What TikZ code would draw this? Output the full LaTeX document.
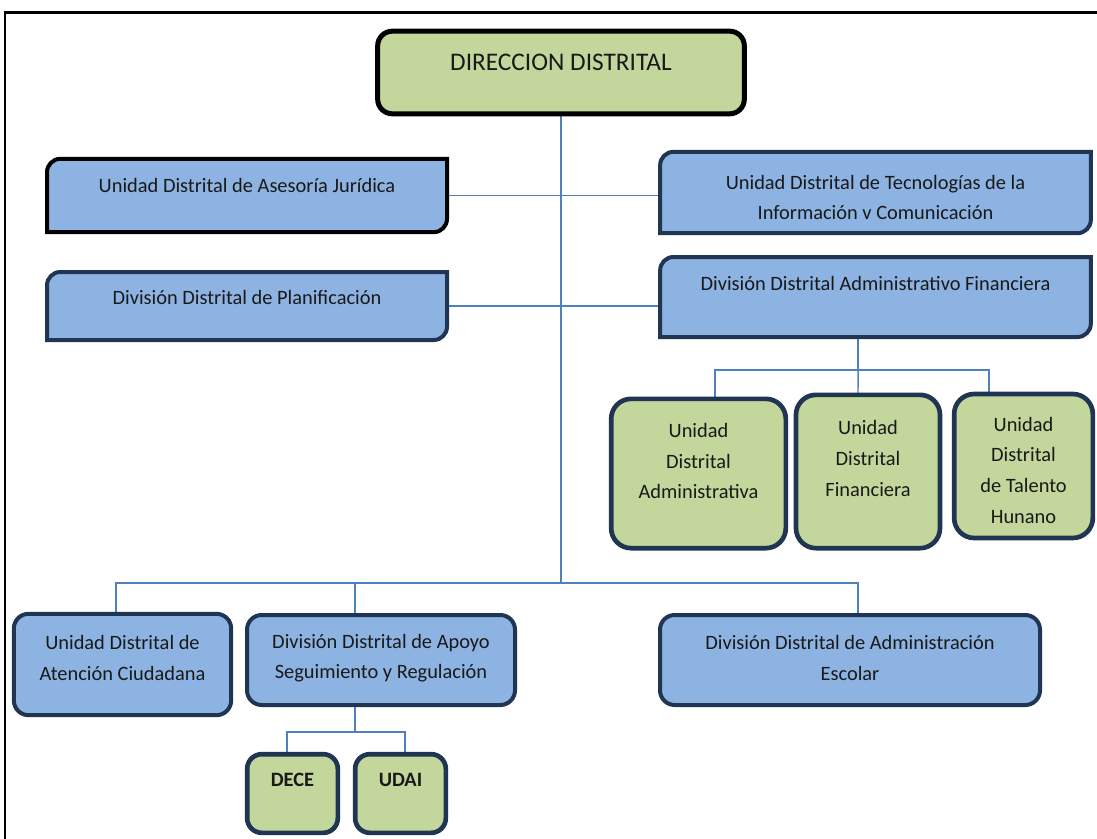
\documentclass[tikz,border=0pt]{standalone}
\usepackage{fontspec}
\setmainfont{Carlito}
\usepackage{tikz}
\usetikzlibrary{calc}

\definecolor{boxblue}{HTML}{8DB3E2}
\definecolor{boxgreen}{HTML}{C3D69B}
\definecolor{edgenavy}{HTML}{1F3552}
\definecolor{linkblue}{HTML}{4F81BD}

\pgfdeclarelayer{bg}
\pgfsetlayers{bg,main}

\newcommand{\bodyfont}{\fontsize{15.3}{23}\selectfont}

% frame with top left and bottom right corners rounded
\newcommand{\diagframe}[2]{%
  \draw[line width=3pt, draw=#2, fill=boxblue]
    ([yshift=-10pt]#1.north west) arc[start angle=180, end angle=90, radius=10pt]
    -- (#1.north east) -- ([yshift=10pt]#1.south east)
    arc[start angle=0, end angle=-90, radius=10pt] -- (#1.south west) -- cycle;
}

\tikzset{
  unitbox/.style={draw=edgenavy, line width=3pt, fill=boxblue, rounded corners=11pt, inner sep=0pt, outer sep=0pt},
  leafbox/.style={draw=edgenavy, line width=3.5pt, fill=boxgreen, rounded corners=15pt, inner sep=0pt, outer sep=0pt},
  diagbox/.style={inner sep=0pt, outer sep=0pt},
  txt/.style={font=\bodyfont, align=center, inner sep=0pt, text=black!90},
  link/.style={draw=linkblue, line width=1.1pt}
}

\begin{document}
\begin{tikzpicture}[x=0.75pt, y=-0.75pt]
    \useasboundingbox (0,0) rectangle (1097,839);

    % Outer frame
    \draw[line width=1.9pt] (5,839) -- (5,12.5) -- (1097,12.5);

    % Draw boxes
    \node[unitbox, draw=black, line width=3.75pt, fill=boxgreen, minimum width=275pt, minimum height=62pt] (dir) at (561,72.5) {};
    \node[diagbox, minimum width=300pt, minimum height=55pt] (jur) at (247,195.5) {};
    \node[diagbox, minimum width=300pt, minimum height=51pt] (plan) at (247,306) {};
    \node[diagbox, minimum width=323pt, minimum height=61pt] (tic) at (875.5,192.5) {};
    \node[diagbox, minimum width=323pt, minimum height=60pt] (daf) at (875.5,297) {};
    \diagframe{jur}{black}
    \diagframe{plan}{edgenavy}
    \diagframe{tic}{edgenavy}
    \diagframe{daf}{edgenavy}

    \node[leafbox, minimum width=131pt, minimum height=112pt] (uadm) at (698.5,473.5) {};
    \node[leafbox, minimum width=108pt, minimum height=115pt] (ufin) at (868,471.5) {};
    \node[leafbox, minimum width=104pt, minimum height=108pt] (uth) at (1023.5,466) {};

    \node[unitbox, minimum width=163pt, minimum height=76pt] (uac) at (122.5,664.5) {};
    \node[unitbox, minimum width=201pt, minimum height=67.5pt] (dasr) at (381,660) {};
    \node[unitbox, minimum width=285pt, minimum height=67.5pt] (dae) at (850,660) {};

    \node[leafbox, rounded corners=11pt, minimum width=68pt, minimum height=59pt] (dece) at (292.5,793.5) {};
    \node[leafbox, rounded corners=11pt, minimum width=68pt, minimum height=59pt] (udai) at (400.5,793.5) {};

    % Texts
    \node[txt, font=\fontsize{19}{22}\selectfont] (dirT) at (dir |- 0,62) {DIRECCION DISTRITAL};
    \node[txt] (jurT) at (jur |- 0,185) {Unidad Distrital de Asesoría Jurídica};
    \node[txt] (planT) at (plan |- 0,297) {División Distrital de Planificación};
    \node[txt] (ticT) at (tic |- 0,197.5) {Unidad Distrital de Tecnologías de la\\Información v Comunicación};
    \node[txt] (dafT) at (daf |- 0,283) {División Distrital Administrativo Financiera};
    \node[txt] (uadmT) at (uadm |- 0,461) {Unidad\\Distrital\\Administrativa};
    \node[txt] (ufinT) at (ufin |- 0,458.5) {Unidad\\Distrital\\Financiera};
    \node[txt] (uthT) at (uth |- 0,470) {Unidad\\Distrital\\de Talento\\Hunano};
    \node[txt] (uacT) at (uac |- 0,658) {Unidad Distrital de\\Atención Ciudadana};
    \node[txt] (dasrT) at (dasr |- 0,658) {División Distrital de Apoyo\\Seguimiento y Regulación};
    \node[txt] (daeT) at (dae |- 0,658) {División Distrital de Administración\\Escolar};
    \node[txt, font=\bodyfont\bfseries] (deceT) at (dece |- 0,780) {DECE};
    \node[txt, font=\bodyfont\bfseries] (udaiT) at (udai |- 0,780) {UDAI};

    % Junctions
    \coordinate (bus) at (dir.south |- 0,583);
    \coordinate (fbus) at ([xshift=-13.1pt]daf.south |- 0,370);
    \coordinate (abus) at ([xshift=-19.5pt]dasr.south |- 0,732);

    % Draw links
    \begin{pgfonlayer}{bg}
    \draw[link] (dir.south) -- (bus);
    \draw[link] (jur.east) -- (jur.east -| tic.west);
    \draw[link] (plan.east) -- (plan.east -| daf.west);
    \draw[link] ([xshift=-4.9pt]uac.north) |- (bus) -| ([xshift=6pt]dae.north);
    \draw[link] ([xshift=-19.5pt]dasr.north) -- ([xshift=-19.5pt]dasr.north |- bus);
    \draw[link] ([xshift=-13.1pt]daf.south) -- (fbus);
    \draw[link] ([xshift=12.4pt]uadm.north) |- (fbus) -| ([xshift=-25.9pt]uth.north);
    \draw[link] (fbus) -- ([xshift=-7.5pt]ufin.north);
    \draw[link] ([xshift=-19.5pt]dasr.south) -- (abus);
    \draw[link] ([xshift=-4.1pt]dece.north) |- (abus) -| ([xshift=3.4pt]udai.north);
    \end{pgfonlayer}
\end{tikzpicture}
\end{document}
